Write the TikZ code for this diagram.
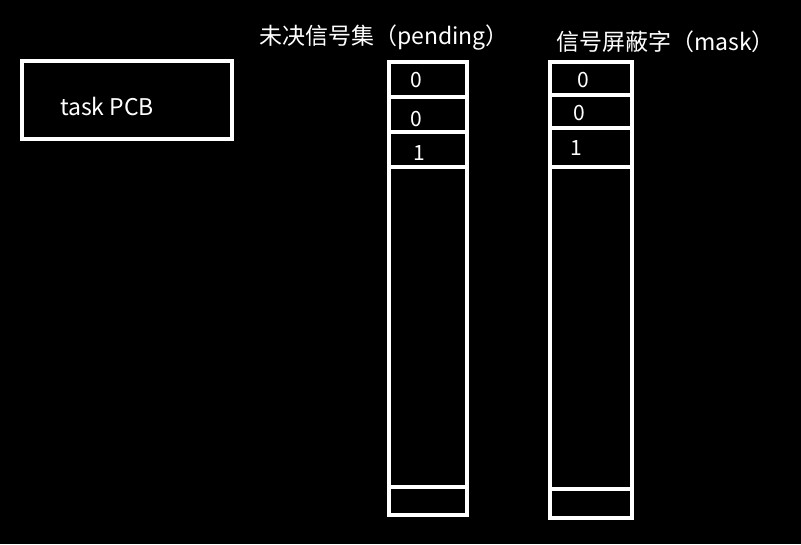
\documentclass[tikz,border=0pt]{standalone}
\usepackage{fontspec}
\setmainfont{Noto Sans CJK SC}
\begin{document}
\begin{tikzpicture}[x=1pt,y=-1pt,line width=4pt]
            \fill[black] (0,0) rectangle (801,544);
            \useasboundingbox (0,0) rectangle (801,544);
            \tikzset{lbl/.style={white,font=\fontsize{23}{26}\selectfont,inner sep=0pt},
                     bit/.style={white,font=\fontsize{21}{24}\selectfont,inner sep=0pt}}
            % task PCB
            \draw[white] (22,61) rectangle (232,139);
            \draw (58,106) node[lbl,anchor=west] (pcb) {task PCB};
            
            % pending column
            \draw[white] (389,62) rectangle (467,515);
            \foreach \y in {97,132,167,487}
                \draw[white] (389,\y) -- (467,\y);
            \draw (257,38) node[lbl,anchor=west] (pendlbl) {未决信号集（pending）};
            \draw (416,80) node[bit] (p1) {0};
            \draw (416,119) node[bit] (p2) {0};
            \draw (419,153) node[bit] (p3) {1};
            
            % mask column
            \draw[white] (550,62) rectangle (632,518);
            \foreach \y in {95,128,167,489}
                \draw[white] (550,\y) -- (632,\y);
            \draw (554,42) node[lbl,anchor=west] (masklbl) {信号屏蔽字（mask）};
            \draw (583,80) node[bit] (m1) {0};
            \draw (579,113) node[bit] (m2) {0};
            \draw (576,148) node[bit] (m3) {1};
        \end{tikzpicture}
\end{document}
